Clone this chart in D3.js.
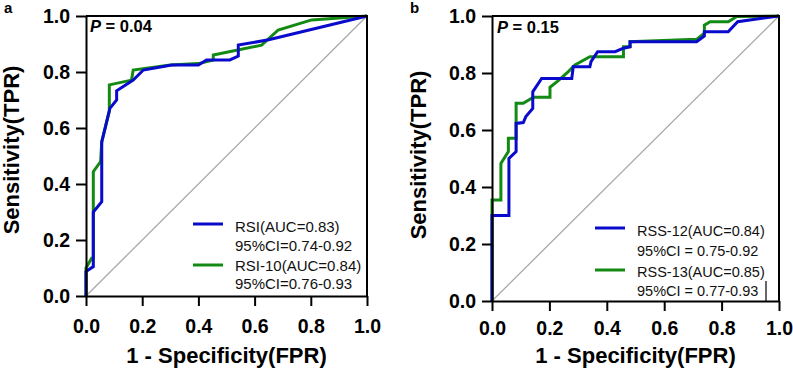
<!DOCTYPE html>
<html><head><meta charset="utf-8">
<script src="https://cdn.jsdelivr.net/npm/d3@7"></script>
<style>
html,body{margin:0;padding:0;background:#fff;}
text{font-family:"Liberation Sans",Arial,sans-serif;}
</style></head>
<body><svg id="c" width="793" height="376"></svg>
<script>
// ---- data ----
const ticks = [0, 0.2, 0.4, 0.6, 0.8, 1.0];
const panelLabels = ["a", "b"];
const pValues = ["0.04", "0.15"];
const xTitle = "1 - Specificity(FPR)";
const yTitle = "Sensitivity(TPR)";

// panel a
const rsiFpr = [0,0,0.026,0.026,0.056,0.056,0.085,0.109,0.109,0.168,0.204,0.305,0.40,0.429,0.512,0.542,0.542,0.65,0.868,1];
const rsiTpr = [0,0.087,0.105,0.30,0.337,0.55,0.67,0.70,0.733,0.771,0.807,0.825,0.825,0.843,0.843,0.857,0.896,0.915,0.968,1];
const rsi10Fpr = [0,0,0.02,0.026,0.026,0.052,0.056,0.083,0.083,0.162,0.168,0.30,0.40,0.453,0.453,0.625,0.684,0.803,1];
const rsi10Tpr = [0,0.10,0.135,0.135,0.444,0.48,0.55,0.66,0.754,0.771,0.807,0.825,0.83,0.843,0.861,0.896,0.95,0.986,1];
// panel b
const rss12Fpr = [0,0,0.059,0.059,0.084,0.084,0.109,0.118,0.142,0.142,0.173,0.278,0.283,0.341,0.345,0.368,0.429,0.458,0.481,0.481,0.713,0.74,0.74,0.823,0.856,1];
const rss12Tpr = [0,0.30,0.30,0.50,0.524,0.623,0.626,0.647,0.676,0.734,0.781,0.781,0.822,0.822,0.84,0.875,0.875,0.887,0.892,0.91,0.91,0.93,0.945,0.945,0.98,1];
const rss13Fpr = [0,0,0.031,0.031,0.057,0.057,0.084,0.084,0.109,0.144,0.202,0.202,0.231,0.266,0.289,0.341,0.37,0.458,0.458,0.481,0.481,0.713,0.74,0.74,0.76,0.823,0.853,1];
const rss13Tpr = [0,0.354,0.354,0.483,0.524,0.571,0.571,0.694,0.694,0.715,0.715,0.75,0.773,0.805,0.828,0.857,0.857,0.857,0.892,0.892,0.91,0.918,0.94,0.968,0.98,0.98,0.998,1];

const legendA = [["RSI(AUC=0.83)","95%CI=0.74-0.92"],["RSI-10(AUC=0.84)","95%CI=0.76-0.93"]];
const legendB = [["RSS-12(AUC=0.84)","95%CI = 0.75-0.92"],["RSS-13(AUC=0.85)","95%CI = 0.77-0.93"]];

const BLUE = "#0a0acd", GREEN = "#138a13";

const svg = d3.select("#c");

const panels = [
  {x0:86, x1:367, y0:296, y1:16, xPad:13, label:"a", lx:4, p:pValues[0], px:90, py:32,
   series:[{f:rsi10Fpr,t:rsi10Tpr,c:GREEN},{f:rsiFpr,t:rsiTpr,c:BLUE}],
   legend:legendA, legCols:[BLUE,GREEN], legLineX:[193,223], legTextX:235, legLineY:[224,265], legBase:[232,251,271,289],
   legFont:15, ytx:19, yty:150},
  {x0:492, x1:779, y0:301, y1:16, xPad:10, label:"b", lx:410, p:pValues[1], px:497, py:33,
   series:[{f:rss13Fpr,t:rss13Tpr,c:GREEN},{f:rss12Fpr,t:rss12Tpr,c:BLUE}],
   legend:legendB, legCols:[BLUE,GREEN], legLineX:[595,625], legTextX:637, legLineY:[228,270], legBase:[236,256,277,296],
   legFont:14.5, ytx:426, yty:155}
];

panels.forEach((P, pi) => {
  const x = d3.scaleLinear().domain([0,1]).range([P.x0, P.x1]);
  const y = d3.scaleLinear().domain([0,1]).range([P.y0, P.y1]);
  const g = svg.append("g");

  // diagonal
  g.append("line").attr("x1", x(0)).attr("y1", y(0)).attr("x2", x(1)).attr("y2", y(1))
    .attr("stroke", "#a8a8a8").attr("stroke-width", 1.3);

  // curves
  P.series.forEach(s => {
    const pts = s.f.map((v,i) => [v, s.t[i]]);
    g.append("path").datum(pts)
      .attr("d", d3.line().x(d => x(d[0])).y(d => y(d[1])))
      .attr("fill", "none").attr("stroke", s.c).attr("stroke-width", 3)
      .attr("stroke-linejoin", "miter");
  });

  // frame (top & right)
  g.append("path").attr("d", `M${x(0)},${y(1)}H${x(1)}V${y(0)}`)
    .attr("fill","none").attr("stroke","#000").attr("stroke-width",2);

  // axes
  const fmt = d3.format(".1f");
  const xa = g.append("g").attr("transform", `translate(0,${P.y0})`)
    .call(d3.axisBottom(x).tickValues(ticks).tickFormat(fmt).tickSize(10).tickPadding(P.xPad).tickSizeOuter(0));
  const ya = g.append("g").attr("transform", `translate(${P.x0},0)`)
    .call(d3.axisLeft(y).tickValues(ticks).tickFormat(fmt).tickSize(10).tickPadding(6).tickSizeOuter(0));
  [xa, ya].forEach(a => {
    a.select(".domain").attr("stroke","#000").attr("stroke-width",2);
    a.selectAll(".tick line").attr("stroke","#000").attr("stroke-width",2);
    a.selectAll(".tick text").attr("fill","#000").attr("font-size",19.5).attr("font-weight","bold")
      .attr("font-family",'"Liberation Sans",Arial,sans-serif');
  });

  // axis titles
  g.append("text").attr("x", (P.x0+P.x1)/2).attr("y", 363).attr("text-anchor","middle")
    .attr("font-size",22).attr("font-weight","bold").text(xTitle);
  g.append("text").attr("transform", `translate(${P.ytx},${P.yty}) rotate(-90)`).attr("text-anchor","middle")
    .attr("font-size",22).attr("font-weight","bold").text(yTitle);

  // panel letter
  g.append("text").attr("x", P.lx).attr("y", 13).attr("font-size",15).attr("font-weight","bold").text(P.label);

  // P value
  const pt = g.append("text").attr("x", P.px).attr("y", P.py).attr("font-size",16.5).attr("font-weight","bold");
  pt.append("tspan").attr("font-style","italic").text("P");
  pt.append("tspan").text(" = " + P.p);

  // legend
  P.legend.forEach((L, i) => {
    g.append("line").attr("x1", P.legLineX[0]).attr("x2", P.legLineX[1])
      .attr("y1", P.legLineY[i]).attr("y2", P.legLineY[i])
      .attr("stroke", P.legCols[i]).attr("stroke-width", 3);
    L.forEach((t, j) => {
      g.append("text").attr("x", P.legTextX).attr("y", P.legBase[i*2+j])
        .attr("font-size", P.legFont).attr("fill","#111").text(t);
    });
  });

  if (pi === 1) {
    g.append("line").attr("x1", 766).attr("x2", 766).attr("y1", 281).attr("y2", P.y0)
      .attr("stroke","#000").attr("stroke-width",1.2);
  }
});
</script></body></html>
